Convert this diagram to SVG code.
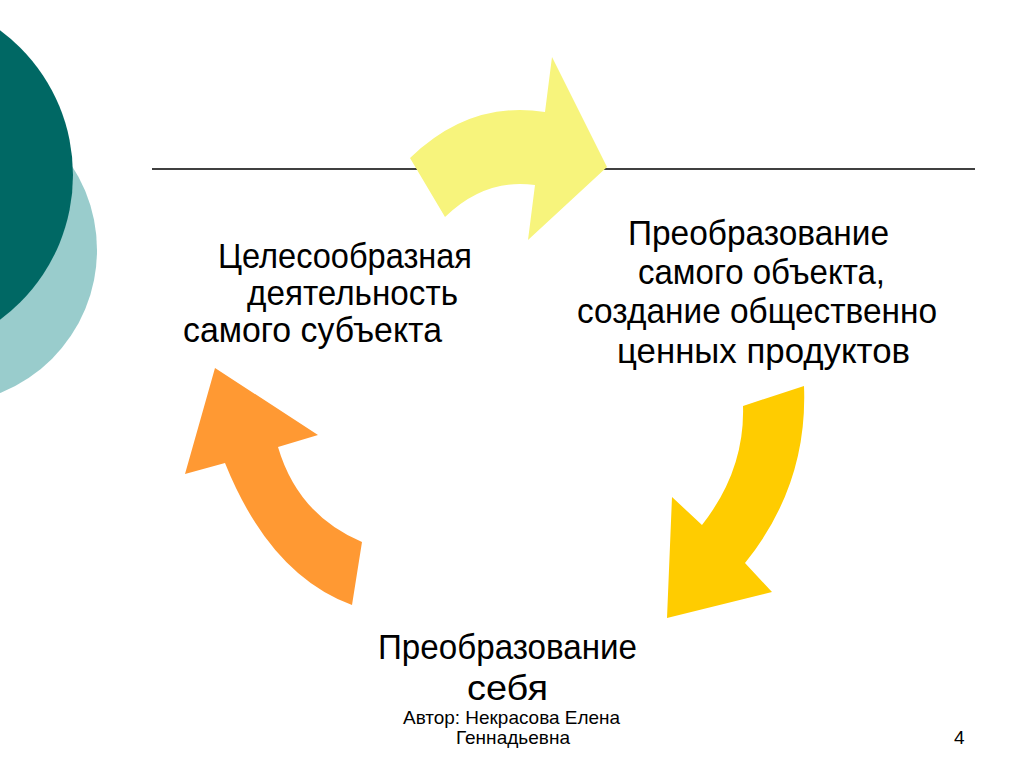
<svg xmlns="http://www.w3.org/2000/svg" width="1024" height="767" viewBox="0 0 1024 767">
<style>
.t{font-family:"Liberation Sans",Arial,sans-serif;fill:#000}
.big{font-size:35px}
.small{font-size:19px}
</style>
<rect width="1024" height="767" fill="#fff"/>
<g id="decor">
<circle cx="-57" cy="250" r="154" fill="#99CCCC"/>
<circle cx="-107" cy="175" r="180" fill="#006864"/>
<line x1="152" y1="169" x2="975" y2="169" stroke="#000" stroke-width="1.5"/>
</g>
<g id="connectors">
<path id="arrow-top" d="M410,158 Q470,100 545,112 L552,57 L607,167 L528,240 L535,185 Q485,178 445,217 Z" fill="#F7F47C"/>
<path id="arrow-right" d="M804,386 L743,406 Q745,470 702,525 L672,497 L667,618 L772,592 L745,563 Q808,485 804,386 Z" fill="#FFCC00"/>
<path id="arrow-left" d="M215,368 L318,435 L278,447 Q298,515 362,542 L352,605 Q270,575 225,463 L185,474 Z" fill="#FF9933"/>
</g>
<g id="node-left">
<text class="t big" x="218" y="268" textLength="254" lengthAdjust="spacingAndGlyphs">Целесообразная</text>
<text class="t big" x="247" y="305" textLength="211" lengthAdjust="spacingAndGlyphs">деятельность</text>
<text class="t big" x="183" y="342" textLength="259" lengthAdjust="spacingAndGlyphs">самого субъекта</text>
</g>
<g id="node-right">
<text class="t big" x="628" y="245" textLength="261" lengthAdjust="spacingAndGlyphs">Преобразование</text>
<text class="t big" x="638" y="284" textLength="247" lengthAdjust="spacingAndGlyphs">самого объекта,</text>
<text class="t big" x="577" y="323" textLength="360" lengthAdjust="spacingAndGlyphs">создание общественно</text>
<text class="t big" x="617" y="363" textLength="293" lengthAdjust="spacingAndGlyphs">ценных продуктов</text>
</g>
<g id="node-bottom">
<text class="t big" x="378" y="659" textLength="259" lengthAdjust="spacingAndGlyphs">Преобразование</text>
<text class="t big" x="467" y="700" textLength="81" lengthAdjust="spacingAndGlyphs">себя</text>
</g>
<g id="footer">
<text class="t small" x="403" y="724" textLength="217" lengthAdjust="spacingAndGlyphs">Автор: Некрасова Елена</text>
<text class="t small" x="456" y="744" textLength="114" lengthAdjust="spacingAndGlyphs">Геннадьевна</text>
<text class="t small" x="954" y="744">4</text>
</g>
</svg>
